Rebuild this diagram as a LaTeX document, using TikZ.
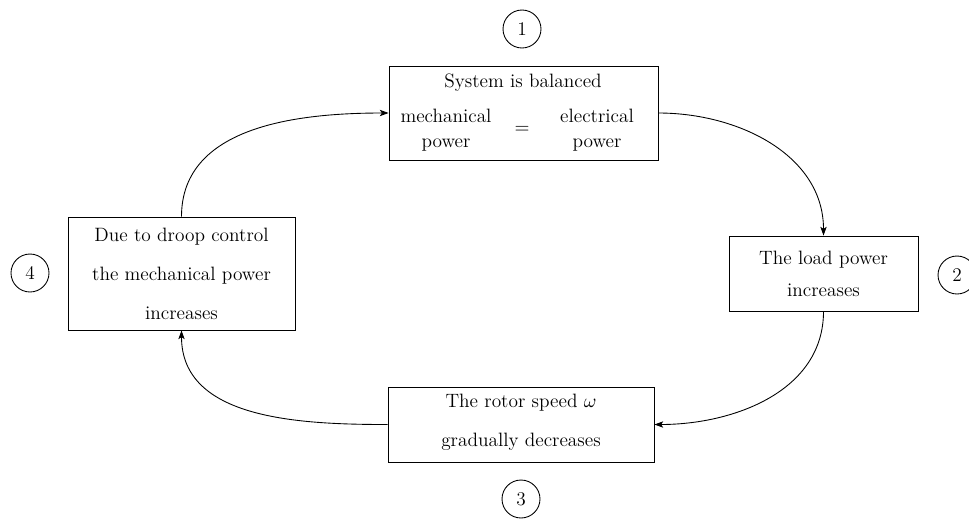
\documentclass[tikz,border=0pt]{standalone}
\usetikzlibrary{arrows.meta}
\begin{document}
\begin{tikzpicture}[x=0.02cm,y=-0.02cm,
  box/.style={draw,line width=0.5pt,inner sep=0pt},
  txt/.style={align=center,inner sep=0pt},
  num/.style={draw,circle,line width=0.5pt,minimum size=0.76cm,inner sep=0pt,font=\fontsize{11}{13}\selectfont},
  conn/.style={line width=0.5pt,-{Stealth[length=5pt,width=3.6pt,inset=1.2pt]}}]
\useasboundingbox (0,0) rectangle (969,518);
% boxes
\node[box,minimum width=5.38cm,minimum height=1.88cm] (b1) at (523.5,113) {};
\node[box,minimum width=3.78cm,minimum height=1.5cm] (b2) at (823.5,273.5) {};
\node[box,minimum width=5.32cm,minimum height=1.5cm] (b3) at (521,424.5) {};
\node[box,minimum width=4.54cm,minimum height=2.26cm] (b4) at (181.5,273.5) {};
% box 1 text
\node[txt,font=\fontsize{11}{14}\selectfont] (t1) at (523,83) {System is balanced};
\node[txt,font=\fontsize{11}{14.5}\selectfont] (m1) at (446,130) {mechanical\\power};
\node[txt,font=\fontsize{11}{14}\selectfont] (q1) at (522,130) {$=$};
\node[txt,font=\fontsize{11}{14.5}\selectfont] (e1) at (597,130) {electrical\\power};
% other texts
\node[txt,font=\fontsize{11}{18.5}\selectfont] (t2) at (823.5,274) {The load power\\increases};
\node[txt,font=\fontsize{11}{22}\selectfont] (t3) at (521,422) {The rotor speed $\omega$\\gradually decreases};
\node[txt,font=\fontsize{11}{22}\selectfont] (t4) at (181.5,274) {Due to droop control\\the mechanical power\\increases};
% numbers
\node[num] (n1) at (522,29) {1};
\node[num] (n2) at (957,275) {2};
\node[num] (n3) at (521,499) {3};
\node[num] (n4) at (30,273) {4};
% connectors
\draw[conn] (b1.east) to[out=0,in=90] (b2.north);
\draw[conn] (b2.south) to[out=-90,in=0] (b3.east);
\draw[conn] (b3.west) to[out=180,in=-90] (b4.south);
\draw[conn] (b4.north) to[out=90,in=180] (b1.west);
\end{tikzpicture}
\end{document}
